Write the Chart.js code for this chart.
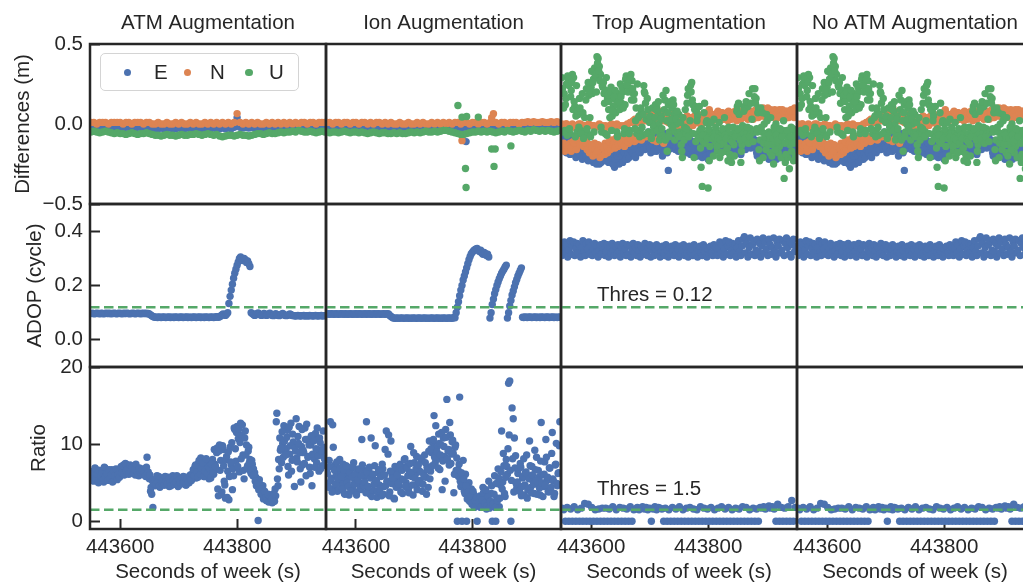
<!DOCTYPE html>
<html><head><meta charset="utf-8">
<script src="https://cdn.jsdelivr.net/npm/chart.js@4.4.1/dist/chart.umd.min.js"></script>
<style>
html,body{margin:0;padding:0;background:#fff;overflow:hidden;width:1023px;height:584px;}
canvas{position:absolute;}
#legend{position:absolute;left:100px;top:53px;width:197px;height:36px;border:1px solid #d4d4d4;border-radius:5px;background:rgba(255,255,255,0.85);font-family:'Liberation Sans',Arial,sans-serif;font-size:20.5px;color:#262626;}
#legend .d{position:absolute;width:7.4px;height:7.4px;border-radius:50%;top:14.5px;}
#legend .t{position:absolute;top:6px;line-height:24px;}
</style></head><body>
<script>
// ---------- labels / ticks ----------
const COL_TITLES = ['ATM Augmentation', 'Ion Augmentation', 'Trop Augmentation', 'No ATM Augmentation'];
const ROW_LABELS = ['Differences (m)', 'ADOP (cycle)', 'Ratio'];
const X_LABEL = 'Seconds of week (s)';
const SERIES_NAMES = ['E', 'N', 'U'];
const X_MIN = 443548.5, X_MAX = 443952;
const X_TICKS = [443600, 443800];
const DIFF_TICKS = [-0.5, 0, 0.5], DIFF_TICK_LABELS = ['\u22120.5', '0.0', '0.5'];
const ADOP_TICKS = [0, 0.2, 0.4], ADOP_TICK_LABELS = ['0.0', '0.2', '0.4'];
const RATIO_TICKS = [0, 10, 20], RATIO_TICK_LABELS = ['0', '10', '20'];
const ADOP_THRES = 0.12, RATIO_THRES = 1.5;
const ADOP_THRES_TEXT = 'Thres = 0.12', RATIO_THRES_TEXT = 'Thres = 1.5';

// ---------- epochs (seconds of week) ----------
const T5 = [443550,443555,443560,443565,443570,443575,443580,443585,443590,443595,
443600,443605,443610,443615,443620,443625,443630,443635,443640,443645,
443650,443655,443660,443665,443670,443675,443680,443685,443690,443695,
443700,443705,443710,443715,443720,443725,443730,443735,443740,443745,
443750,443755,443760,443765,443770,443775,443780,443785,443790,443795,
443800,443805,443810,443815,443820,443825,443830,443835,443840,443845,
443850,443855,443860,443865,443870,443875,443880,443885,443890,443895,
443900,443905,443910,443915,443920,443925,443930,443935,443940,443945,
443950];
const T3 = [443550,443553,443556,443559,443562,443565,443568,443571,443574,443577,
443580,443583,443586,443589,443592,443595,443598,443601,443604,443607,
443610,443613,443616,443619,443622,443625,443628,443631,443634,443637,
443640,443643,443646,443649,443652,443655,443658,443661,443664,443667,
443670,443673,443676,443679,443682,443685,443688,443691,443694,443697,
443700,443703,443706,443709,443712,443715,443718,443721,443724,443727,
443730,443733,443736,443739,443742,443745,443748,443751,443754,443757,
443760,443763,443766,443769,443772,443775,443778,443781,443784,443787,
443790,443793,443796,443799,443802,443805,443808,443811,443814,443817,
443820,443823,443826,443829,443832,443835,443838,443841,443844,443847,
443850,443853,443856,443859,443862,443865,443868,443871,443874,443877,
443880,443883,443886,443889,443892,443895,443898,443901,443904,443907,
443910,443913,443916,443919,443922,443925,443928,443931,443934,443937,
443940,443943,443946,443949];
const T2 = [443550,443552,443554,443556,443558,443560,443562,443564,443566,443568,
443570,443572,443574,443576,443578,443580,443582,443584,443586,443588,
443590,443592,443594,443596,443598,443600,443602,443604,443606,443608,
443610,443612,443614,443616,443618,443620,443622,443624,443626,443628,
443630,443632,443634,443636,443638,443640,443642,443644,443646,443648,
443650,443652,443654,443656,443658,443660,443662,443664,443666,443668,
443670,443672,443674,443676,443678,443680,443682,443684,443686,443688,
443690,443692,443694,443696,443698,443700,443702,443704,443706,443708,
443710,443712,443714,443716,443718,443720,443722,443724,443726,443728,
443730,443732,443734,443736,443738,443740,443742,443744,443746,443748,
443750,443752,443754,443756,443758,443760,443762,443764,443766,443768,
443770,443772,443774,443776,443778,443780,443782,443784,443786,443788,
443790,443792,443794,443796,443798,443800,443802,443804,443806,443808,
443810,443812,443814,443816,443818,443820,443822,443824,443826,443828,
443830,443832,443834,443836,443838,443840,443842,443844,443846,443848,
443850,443852,443854,443856,443858,443860,443862,443864,443866,443868,
443870,443872,443874,443876,443878,443880,443882,443884,443886,443888,
443890,443892,443894,443896,443898,443900,443902,443904,443906,443908,
443910,443912,443914,443916,443918,443920,443922,443924,443926,443928,
443930,443932,443934,443936,443938,443940,443942,443944,443946,443948,
443950];
const T2B = [443551,443553,443555,443557,443559,443561,443563,443565,443567,443569,
443571,443573,443575,443577,443579,443581,443583,443585,443587,443589,
443591,443593,443595,443597,443599,443601,443603,443605,443607,443609,
443611,443613,443615,443617,443619,443621,443623,443625,443627,443629,
443631,443633,443635,443637,443639,443641,443643,443645,443647,443649,
443651,443653,443655,443657,443659,443661,443663,443665,443667,443669,
443671,443673,443675,443677,443679,443681,443683,443685,443687,443689,
443691,443693,443695,443697,443699,443701,443703,443705,443707,443709,
443711,443713,443715,443717,443719,443721,443723,443725,443727,443729,
443731,443733,443735,443737,443739,443741,443743,443745,443747,443749,
443751,443753,443755,443757,443759,443761,443763,443765,443767,443769,
443771,443773,443775,443777,443779,443781,443783,443785,443787,443789,
443791,443793,443795,443797,443799,443801,443803,443805,443807,443809,
443811,443813,443815,443817,443819,443821,443823,443825,443827,443829,
443831,443833,443835,443837,443839,443841,443843,443845,443847,443849,
443851,443853,443855,443857,443859,443861,443863,443865,443867,443869,
443871,443873,443875,443877,443879,443881,443883,443885,443887,443889,
443891,443893,443895,443897,443899,443901,443903,443905,443907,443909,
443911,443913,443915,443917,443919,443921,443923,443925,443927,443929,
443931,443933,443935,443937,443939,443941,443943,443945,443947,443949];

// ---------- row 1: position differences (m) ----------
const ATM_E = [-.02,-.02,-.025,-.02,-.02,-.015,-.02,-.02,-.025,-.02,-.02,-.025,-.02,-.02,-.02,-.025,-.02,-.02,-.02,-.025,
-.02,-.025,-.03,-.03,-.025,-.03,-.03,-.025,-.03,-.03,-.025,-.03,-.03,-.025,-.03,-.025,-.03,-.025,-.03,-.025,
-.025,-.03,-.025,-.03,-.03,-.025,-.03,-.025,-.03,-.02,.04,-.02,-.025,-.02,-.025,-.02,-.025,-.02,-.02,-.025,
-.02,-.025,-.02,-.02,-.025,-.02,-.02,-.025,-.02,-.02,-.02,-.025,-.02,-.02,-.025,-.02,-.02,-.025,-.02,-.02,-.02];
const ATM_N = [.01,.01,0,.01,.01,.01,0,.01,.01,.01,.01,0,.01,.01,0,.01,.01,.01,0,.01,
.01,0,0,.01,0,0,.01,0,0,.01,0,.01,0,0,.01,0,.01,0,0,.01,
0,.01,0,.01,0,.01,0,.01,0,.01,.065,.01,0,.01,0,.01,0,.01,0,0,
.01,0,.01,0,.01,0,.01,0,.01,0,.01,0,.01,.01,0,.01,.01,0,.01,.01,.01];
const ATM_U = [-.05,-.045,-.05,-.055,-.05,-.045,-.05,-.055,
-.06,-.055,-.06,-.06,-.065,-.06,-.055,-.06,-.065,-.06,-.06,-.055,-.06,
-.065,-.07,-.07,-.075,-.07,-.065,-.07,-.07,-.075,-.07,-.065,-.07,-.07,-.065,
-.065,-.06,-.065,-.07,-.065,-.06,-.065,-.07,-.065,
-.075,-.08,-.075,
-.07,-.07,-.075,-.07,-.065,-.07,-.07,-.075,-.07,
-.065,-.06,-.06,-.065,-.06,-.055,-.06,-.06,-.055,
-.05,-.055,-.05,-.05,-.045,-.05,-.04,-.045,
-.05,-.05,-.045,-.05,-.055,-.05,-.045,-.05];

const ION_E = [-.02,-.02,-.025,-.02,-.02,-.025,-.02,-.02,-.025,-.02,-.025,-.02,-.02,-.025,-.02,-.025,-.02,-.025,-.02,-.02,
-.025,-.03,-.025,-.03,-.03,-.025,-.03,-.03,-.025,-.03,-.03,-.025,-.03,-.03,-.025,-.03,-.025,-.03,-.025,-.025,
-.025,-.02,-.025,-.02,-.025,-.02,-.025,-.02,-.02,-.025,-.02,-.02,-.025,-.02,-.02,-.025,-.02,-.02,-.025,-.02,
-.02,-.025,-.02,-.02,-.025,-.02,-.02,-.025,-.02,-.02,-.02,-.025,-.02,-.02,-.02,-.025,-.02,-.02,-.025,-.02,-.02];
const ION_N = [.01,.01,0,.01,.01,0,.01,.01,0,.01,.01,0,.01,.01,0,.01,0,.01,.01,0,
.01,0,.01,0,0,.01,0,0,.01,0,0,.01,0,.01,0,0,.01,0,.01,0,
.01,0,.01,0,.01,.01,0,.01,.01,0,.01,.01,0,.01,.01,0,.01,.01,.01,0,
.01,.01,0,.01,.01,.01,0,.01,.01,.015,.01,.015,.01,.01,.015,.01,.01,.015,.01,.015,.01];
const ION_U = [-.05,-.055,-.05,-.05,-.055,-.05,-.045,-.05,-.055,-.05,-.05,
-.055,-.05,-.055,-.06,-.055,-.05,-.055,-.06,-.055,-.055,-.06,-.06,-.055,-.06,-.055,-.06,-.06,-.055,-.05,-.055,
-.05,-.055,-.05,-.045,-.05,-.05,-.045,-.05,-.045,-.04,
-.04,-.045,-.05,-.055,-.06,-.065,
-.065,-.06,-.055,-.05,-.05,-.045,
-.05,-.045,-.05,-.045,-.05,-.055,-.05,-.045,-.05,-.04,-.045,-.05,
-.045,-.04,-.045,-.05,-.04,-.045,-.035,-.04,-.045,-.04,-.045,-.04,-.045,-.05,-.045,-.04];
const ION_E_OUT_T = [443789];
const ION_E_OUT = [-0.11];
const ION_N_OUT_T = [443782, 443833, 443836];
const ION_N_OUT = [-0.104, 0.039, 0.064];
const ION_U_OUT_T = [443775, 443782, 443790, 443810, 443788, 443789, 443833, 443839, 443837, 443866];
const ION_U_OUT = [0.116, 0.043, 0.047, 0.043, -0.278, -0.397, -0.156, -0.156, -0.265, -0.137];

// Trop augmentation, even epochs (T2)
const TROP_E = [-.08,-.16,-.12,-.07,-.18,-.14,-.1,-.19,-.09,-.15,-.17,-.12,-.21,-.08,-.14,-.13,-.05,-.11,-.16,-.04,
-.15,-.2,-.13,-.18,-.22,-.19,-.14,-.24,-.17,-.21,-.23,-.18,-.25,-.15,-.2,-.16,-.22,-.13,-.19,-.21,
-.24,-.17,-.2,-.14,-.22,-.27,-.19,-.23,-.16,-.25,-.21,-.17,-.24,-.19,-.15,-.18,-.22,-.14,-.2,-.17,
-.13,-.19,-.16,-.21,-.12,-.15,-.11,-.18,-.09,-.14,-.1,-.16,-.07,-.13,-.05,-.12,-.18,-.08,-.15,-.11,
-.09,-.17,-.06,-.13,-.1,-.14,-.2,-.11,-.16,-.08,-.18,-.29,-.13,-.1,-.15,-.07,-.12,-.16,-.09,-.14,
-.11,-.15,-.08,-.13,-.18,-.14,-.1,-.17,-.12,-.16,-.19,-.13,-.15,-.11,-.17,-.16,-.2,-.12,-.18,-.14,
-.21,-.15,-.19,-.13,-.17,-.22,-.16,-.12,-.18,-.1,-.13,-.08,-.15,-.11,-.09,-.12,-.16,-.1,-.14,-.07,
-.11,-.15,-.09,-.13,-.17,-.14,-.1,-.18,-.12,-.16,-.17,-.12,-.15,-.19,-.11,-.13,-.09,-.16,-.1,-.14,
-.08,-.13,-.11,-.07,-.12,-.1,-.15,-.2,-.12,-.17,-.16,-.21,-.13,-.18,-.11,-.19,-.14,-.22,-.16,-.2,
-.15,-.21,-.17,-.13,-.2,-.18,-.14,-.21,-.16,-.12,-.17,-.22,-.14,-.19,-.11,-.15,-.19,-.12,-.17,-.09,
-.13];
const TROP_N = [0,-.15,-.01,-.13,0,-.16,-.01,-.12,-.17,0,-.14,-.02,-.11,-.13,-.01,-.1,0,-.12,-.09,-.01,
-.01,-.11,-.14,0,-.13,-.15,-.01,-.17,-.12,-.02,-.19,-.13,0,-.2,-.15,-.01,-.16,-.12,-.02,-.18,
-.13,-.01,-.1,-.15,-.01,-.12,-.09,0,-.14,-.11,-.01,-.1,-.13,-.02,-.11,-.09,0,-.12,-.1,.01,
-.08,.02,-.11,.01,-.09,.01,-.06,.02,-.1,.03,.05,.03,-.08,.06,.04,.02,.06,.03,-.1,.05,
.07,-.11,.04,-.09,.06,.03,.07,-.12,.05,.02,.04,.01,.06,.03,.05,.02,.05,-.02,.04,.03,
.01,.04,-.01,.03,.02,.03,0,.05,-.02,.03,.02,.04,-.01,.03,.01,.04,.01,.05,.02,-.01,
.03,.05,.01,.04,.02,.05,.09,.03,.06,.02,.04,.06,.03,.07,.05,.02,.05,.07,.03,.06,
.04,.07,.02,.06,.05,.03,.06,.04,.08,.05,.07,.04,.06,.03,.07,.05,.08,.04,.06,.03,
.06,.04,.07,.05,.08,.05,.09,.06,.04,.07,.08,.06,.1,.05,.07,.06,.1,.04,.08,.06,
.07,.05,.09,.03,.08,.06,.09,.04,.07,.05,.03,.07,.05,.08,.04,.06,.09,.05,.07,.1,
.05];
const TROP_U = [.29,-.05,.19,.12,.25,.3,.24,-.06,.21,.31,.29,.11,.05,-.05,.06,.16,-.04,-.06,.07,-.05,
-.05,.22,-.06,.18,.04,.23,.19,.28,.35,.29,.42,.41,.36,.31,-.05,.23,.19,-.06,.29,.16,
.09,.04,.23,.05,.11,.16,.07,-.05,.19,.16,.25,.13,.2,-.06,.12,.3,.27,.23,-.04,.31,
.27,.19,.19,.02,-.06,-.05,.05,-.04,.07,-.07,.24,.19,.03,.16,-.05,.01,-.06,-.06,0,-.04,
.12,.11,.08,0,-.07,.05,-.07,-.09,.15,.21,-.17,.12,-.05,0,.1,.15,.06,-.05,0,-.06,
.06,-.05,-.13,-.21,-.06,-.02,-.06,.13,.22,-.05,.24,.26,.12,-.21,.11,.08,.05,-.06,-.04,-.27,
-.39,-.11,.13,-.06,.02,-.4,-.23,-.07,-.05,-.07,.03,-.11,-.05,-.17,-.06,-.21,-.13,-.06,-.04,.04,
-.17,-.05,-.23,-.06,-.22,-.24,-.06,-.13,-.05,-.04,.11,.13,-.06,-.24,-.13,-.05,.11,.1,-.06,.11,
.19,-.03,-.06,.22,-.05,.22,.16,-.05,.1,-.23,.1,-.05,-.21,0,-.06,.06,-.1,-.05,-.18,-.06,
-.13,-.25,-.05,0,-.06,-.18,-.14,-.05,-.06,-.04,-.34,-.24,-.06,-.21,-.04,-.13,-.02,-.09,-.23,-.05,
-.06];
// Trop augmentation, odd epochs (T2B)
const TROP_E2 = [-.11,-.06,-.17,-.13,-.09,-.18,-.12,-.07,-.16,-.11,-.1,-.19,-.15,-.06,-.13,-.19,-.15,-.22,-.12,-.17,
-.2,-.16,-.23,-.14,-.19,-.17,-.22,-.15,-.2,-.25,-.21,-.16,-.19,-.24,-.14,-.2,-.15,-.23,-.18,-.12,
-.16,-.21,-.18,-.25,-.19,-.22,-.17,-.2,-.13,-.18,-.16,-.2,-.12,-.18,-.22,-.14,-.19,-.21,-.16,-.11,
-.18,-.14,-.2,-.1,-.15,-.12,-.17,-.07,-.13,-.16,-.08,-.12,-.15,-.1,-.14,-.15,-.09,-.13,-.17,-.06,
-.12,-.14,-.08,-.16,-.11,-.1,-.13,-.17,-.06,-.12,-.12,-.16,-.08,-.14,-.11,-.13,-.09,-.15,-.11,-.17,
-.14,-.1,-.16,-.12,-.09,-.11,-.18,-.13,-.15,-.1,-.15,-.12,-.18,-.14,-.2,-.13,-.17,-.1,-.15,-.19,
-.16,-.12,-.14,-.2,-.15,-.14,-.19,-.11,-.15,-.13,-.1,-.14,-.07,-.12,-.16,-.14,-.09,-.13,-.11,-.15,
-.13,-.17,-.11,-.15,-.1,-.12,-.15,-.09,-.17,-.13,-.14,-.1,-.18,-.13,-.16,-.11,-.15,-.12,-.08,-.13,
-.1,-.15,-.09,-.13,-.11,-.14,-.18,-.12,-.16,-.19,-.18,-.13,-.2,-.15,-.17,-.16,-.21,-.18,-.13,-.17,
-.19,-.14,-.18,-.22,-.16,-.15,-.19,-.13,-.17,-.2,-.14,-.19,-.16,-.12,-.18,-.17,-.12,-.15,-.1,-.14];
const TROP_N2 = [-.02,-.12,-.17,0,-.14,-.01,-.13,-.15,-.02,-.11,-.12,-.01,-.16,-.1,0,-.13,-.02,-.1,-.14,-.01,
-.12,-.16,-.01,-.18,-.13,-.14,-.2,-.01,-.16,-.19,-.17,-.01,-.21,-.14,-.02,-.15,-.19,-.01,-.14,-.17,
-.11,-.16,0,-.13,-.12,-.15,-.01,-.1,-.13,-.08,-.12,-.09,-.01,-.14,-.1,-.01,-.11,-.08,.01,-.1,
.01,-.09,.03,-.1,.02,-.08,.04,.02,-.09,.05,.06,.02,.04,-.07,.05,.04,-.09,.07,.03,.05,
.03,.06,-.1,.05,.08,.06,.04,.02,-.09,.05,.02,.05,.04,.01,.06,.04,.01,.03,.05,-.01,
.02,-.01,.04,.02,.03,.01,.04,.02,-.01,.03,.04,.02,0,.05,.03,.02,.05,.03,.01,.04,
.06,.02,.04,.03,.07,.04,.07,.02,.05,.03,.06,.03,.05,.08,.04,.05,.07,.03,.06,.04,
.06,.03,.08,.05,.04,.07,.04,.06,.05,.02,.05,.08,.03,.06,.05,.07,.05,.06,.09,.04,
.05,.08,.06,.03,.07,.07,.04,.08,.06,.05,.06,.09,.05,.07,.04,.08,.05,.07,.09,.06,
.05,.08,.06,.04,.07,.08,.06,.05,.09,.07,.06,.08,.04,.07,.06,.08,.05,.07,.04,.08];
const TROP_U2 = [.22,.1,-.04,.16,-.07,.28,-.03,.17,.26,.09,.14,-.08,.24,.08,-.02,.1,-.06,.19,-.09,.04,
.15,-.03,.26,.21,-.08,.33,.26,-.05,.31,.2,.38,.33,.27,-.02,.24,.26,.13,.21,-.07,.18,
.14,.2,-.04,.08,.17,.21,.12,-.08,.14,.09,.17,.23,.1,-.03,.28,.24,.2,-.06,.28,.15,
.22,.15,-.03,.1,.25,.04,-.08,.1,-.02,.06,.2,.13,-.06,.09,.02,.05,-.09,.1,-.02,.04,
.09,-.04,.14,-.1,.03,-.03,.18,.09,-.1,.02,.07,-.08,.14,.03,-.02,.12,-.1,.03,.08,-.07,
-.08,.01,-.17,.04,-.1,.09,-.03,.18,-.08,.02,.2,.15,-.06,.09,-.11,.02,-.09,.11,-.15,-.03,
-.07,.07,-.12,.01,-.09,-.03,-.14,.01,-.09,-.2,-.08,-.02,-.14,-.09,.01,-.1,-.18,-.03,-.12,-.07,
-.09,-.15,-.02,-.19,-.1,-.11,-.02,-.2,-.08,.08,-.03,.06,-.1,-.17,-.01,.08,-.09,.14,-.02,-.12,
-.08,.13,.03,-.11,.17,.13,-.03,.07,-.16,-.1,-.02,.07,-.12,-.08,-.16,.02,-.13,-.07,.04,-.2,
-.09,-.02,-.16,-.07,-.11,-.1,-.03,-.21,-.08,.02,-.12,-.19,-.04,-.09,-.28,-.08,-.17,-.03,-.12,-.2];
// "No ATM Augmentation" differences read identical to the Trop panel
const NOATM_E = TROP_E, NOATM_N = TROP_N, NOATM_U = TROP_U;
const NOATM_E2 = TROP_E2, NOATM_N2 = TROP_N2, NOATM_U2 = TROP_U2;

// ---------- row 2: ADOP (cycle) ----------
const ADOP_ATM = [.097,.098,.097,.096,.097,.098,.097,.097,.096,.098,.097,.096,.097,.098,.097,.097,.098,.096,.097,.097,
.098,.097,.096,.097,.098,.097,.097,.096,.098,.097,.097,.098,.097,.096,.097,.097,.098,.097,.096,.097,
.098,.097,.097,.096,.098,.097,.097,.098,.096,.097,
.095,.092,.089,.086,.084,.083,
.083,.082,.084,.083,.082,.083,.084,.083,.082,.083,.083,.084,.082,.083,.083,.082,.084,.083,.083,.082,
.083,.084,.083,.082,.083,.083,.084,.082,.083,.083,.082,.083,.084,.083,.082,.083,.083,.084,.082,.083,
.083,.082,.084,.083,.083,.082,.083,.084,.083,.082,.083,.085,.084,.083,
.085,.088,.092,.095,.093,.09,.094,.1,
.134,.16,.183,.205,.227,.245,.26,.275,.287,.3,.305,.298,.292,.3,.295,.285,.29,.28,.27,
.1,.097,.093,.09,.092,.096,.099,.095,.091,.09,.093,.097,.094,.09,
.091,.095,.098,.094,.09,.089,.092,.096,.093,.09,.089,.091,.094,.097,.093,.09,.089,.09,.092,.095,.093,.09,.089,
.089,.088,.089,.09,.089,.088,.089,.089,.09,.088,.089,.089,.088,.09,.089,.089,.088,.089,.09,.089,.088,.089,.089,.09,.088,.089,.089];
const ADOP_ION = [.095,.096,.094,.095,.096,.095,.094,.095,.096,.095,.094,.095,.096,.095,.095,.094,.096,.095,.094,.095,
.096,.095,.094,.095,.095,.096,.094,.095,.096,.095,.094,.095,.095,.096,.094,.095,.096,.095,.094,.095,
.095,.096,.094,.095,.096,.095,.094,.095,.095,.096,.094,.095,.096,.095,
.09,.086,.083,.08,
.08,.079,.081,.08,.079,.08,.081,.08,.079,.08,.08,.081,.079,.08,.08,.079,.081,.08,.08,.079,
.08,.081,.08,.079,.08,.08,.081,.079,.08,.08,.079,.08,.081,.08,.079,.08,.08,.081,.079,.08,
.08,.079,.081,.08,.08,.079,.08,.081,.08,.079,.08,.082,.081,
.1,.12,.14,.162,.183,.2,.22,.235,.25,.265,.28,.295,.307,.317,.323,.328,.332,.335,.336,
.33,.325,.33,.32,.315,.322,.318,.31,.315,.305,
.08,.1,.13,.15,.17,.185,.2,.213,.225,.235,.245,.253,.26,.268,.275,
.08,.1,.125,.145,.165,.18,.195,.21,.222,.235,.245,.255,.265,
.083,.082,.084,.083,.082,.083,.084,.083,.082,.083,.083,.084,.082,.083,.083,.082,.084,.083,.083,.082,
.083,.084,.083,.082,.083,.083,.084,.082,.083,.083,.082,.083,.084];
const ADOP_TROP = [.31,.34,.36,.32,.35,.305,.33,.365,.315,.345,.36,.31,.335,.355,.32,.35,.305,.34,.365,.325,.31,.355,.335,.36,.315,.345,
.31,.335,.355,.32,.345,.305,.33,.35,.315,.34,.355,.31,.325,.35,.305,.34,.32,.355,.33,.31,.345,.315,.35,.325,.305,.34,.355,.32,.335,.31,
.35,.315,.345,.305,.33,.355,.32,.34,.31,.35,.325,.305,.345,.335,.315,.355,.32,.31,.34,.35,.305,.33,.345,
.31,.335,.35,.315,.34,.305,.325,.345,.32,.31,.35,.33,.305,.34,.315,.345,.325,.31,.35,.32,.335,.305,.345,.315,.33,.35,.31,.34,.32,.305,
.345,.325,.335,.31,.35,.315,.34,.305,.33,.345,.32,.31,.35,.325,.34,.305,.335,.315,.345,.32,.31,.35,.33,.34,
.31,.34,.36,.32,.35,.305,.335,.365,.315,.345,.36,.31,.33,.355,.32,.35,.305,.34,.365,.325,
.31,.345,.37,.38,.32,.355,.305,.34,.375,.315,.35,.365,.31,.33,.37,.325,.355,.305,.345,.375,.32,.36,.335,.31,.37,.35,.315,.34,.375,.325,
.305,.36,.345,.37,.32,.33,.365,.31,.355,.375,.34,.315,.36,.305,.35,.37,.325,.345];
const ADOP_NOATM = ADOP_TROP;

// ---------- row 3: ratio ----------
const RATIO_ATM = [6.1,5.6,6.5,5.3,6.8,5.9,6.2,5.4,6.6,5.8,6.3,5.1,6.9,5.7,6.0,5.5,6.4,5.9,6.7,5.2,6.1,6.5,5.6,6.2,5.8,
6.4,7.1,6.6,7.3,6.8,7.4,6.2,7.0,6.5,7.2,6.9,6.3,7.1,6.0,6.7,6.4,5.9,6.6,6.2,6.8,
6.1,6.6,5.8,8.3,6.4,5.5,3.9,3.5,1.8,
5.1,4.6,5.5,4.9,5.8,4.4,5.3,5.0,5.6,4.7,5.2,4.9,5.7,4.5,5.4,5.0,5.9,4.8,5.3,5.1,5.6,4.6,5.2,5.5,4.9,5.8,5.1,4.7,5.4,5.7,5.0,6.0,5.3,5.8,
6.2,7.1,5.6,6.8,7.5,6.0,8.2,6.5,7.0,5.8,6.9,7.7,6.3,5.5,7.2,6.6,8.0,6.1,7.4,6.7,
9.5,3.3,9.9,7.9,3.8,9.3,5.2,3.0,8.4,6.5,2.8,9.6,7.3,4.1,
5.9,11.9,7.8,12.3,10.7,6.4,12.7,11.2,8.6,5.5,
11.7,9.9,7.2,9.6,8.0,6.2,7.4,6.8,
6.3,5.7,4.9,0.1,5.4,4.4,3.8,4.6,3.2,3.6,2.7,3.1,2.5,3.4,2.8,2.4,3.0,2.6,3.3,
14.0,4.6,6.8,9.2,7.6,10.1,12.4,9.0,
9.4,11.8,6.0,8.7,12.7,7.9,10.3,4.5,9.1,8.2,11.0,12.3,6.8,9.7,7.3,8.9,12.1,5.9,10.6,8.4,7.0,9.9,4.6,10.9,8.1,11.4,7.6,9.3,6.5,10.2,8.8,7.2,9.6,8.0];
const RATIO_ATM2 = [5.7,6.4,5.2,6.9,5.5,6.1,5.0,6.6,5.9,6.3,5.4,7.0,5.8,6.2,5.3,6.7,5.6,6.0,5.1,6.5,5.9,6.8,5.4,6.1,5.7,
6.9,6.3,7.2,6.0,7.5,6.6,6.8,6.1,7.3,6.4,7.0,6.2,6.7,7.4,6.5,6.0,6.9,6.3,6.6,6.1,
6.4,5.9,7.0,6.2,5.7,6.0,4.4,5.3,4.9,
5.4,4.8,5.9,5.1,4.6,5.6,5.0,5.3,4.7,5.8,5.2,4.9,5.5,5.0,4.6,5.7,5.3,4.8,5.1,5.9,4.5,5.4,5.0,5.6,4.9,5.2,5.7,4.7,5.5,5.1,5.8,5.4,6.1,
6.7,5.9,7.3,6.4,5.7,7.9,6.1,6.9,7.6,5.8,6.5,8.1,6.2,7.0,6.8,5.6,7.4,6.3,9.3,7.1,
8.9,4.2,9.1,6.6,3.5,9.8,7.2,4.7,8.0,3.1,9.0,5.8,7.7,10.2,
6.8,12.1,9.4,11.5,7.1,12.0,10.2,8.1,12.5,6.6,
10.8,8.6,6.9,9.1,7.6,6.5,7.9,5.9,
6.0,5.2,4.6,5.0,4.1,4.8,3.5,4.2,2.9,3.9,3.0,2.7,3.5,2.6,3.1,2.9,2.5,3.6,4.2,
12.9,5.5,8.0,10.8,9.5,11.6,8.3,10.4,
8.6,10.9,7.1,12.2,9.8,6.5,11.3,8.0,9.5,13.3,7.7,10.1,8.9,5.1,11.9,9.2,7.5,10.6,12.6,8.3,9.9,6.2,11.1,8.7,10.4,7.0,9.4,12.1,8.5,10.8,6.8,9.1,11.7,8.2];
const RATIO_ION = [6.8,4.9,7.9,12.9,5.6,12.5,4.2,7.3,5.9,3.9,6.5,8.0,5.1,
4.6,7.4,3.6,6.1,5.3,7.0,3.4,5.8,6.9,4.4,7.6,5.0,3.8,6.3,5.2,4.9,4.1,10.6,6.7,4.8,
5.9,12.9,4.3,6.6,3.5,10.8,5.7,4.0,7.2,5.1,3.1,6.3,4.7,5.9,3.3,6.8,4.5,9.3,11.7,5.2,11.2,3.8,10.4,6.0,4.9,2.9,6.5,5.4,
6.8,4.6,7.4,5.5,3.6,6.9,8.1,5.0,7.2,4.2,6.4,9.7,5.8,3.4,7.6,6.1,8.4,4.9,6.6,5.3,7.9,3.9,6.2,8.6,5.7,7.0,4.4,10.4,6.5,
8.9,10.2,13.7,7.6,9.5,8.1,11.3,6.7,9.9,4.1,10.8,8.4,11.9,15.8,9.1,7.3,11.2,8.7,10.5,3.7,9.6,6.6,
0,5.8,16.1,4.5,0,7.9,3.9,6.1,0,3.3,5.0,2.7,4.2,2.3,3.5,1.9,2.9,0,2.5,
3.1,1.8,2.6,4.4,2.2,3.4,1.6,2.9,5.2,2.1,3.6,0,2.4,5.9,0,3.0,6.8,1.9,4.7,
11.7,5.1,7.2,3.2,8.0,6.1,17.9,18.2,0,14.7,13.3,10.8,8.5,4.3,
6.2,4.0,7.5,3.3,5.6,8.1,4.7,6.4,3.0,5.9,10.4,4.4,7.1,5.2,3.6,6.7,8.3,4.8,5.7,3.4,12.8,6.0,4.5,7.7,10.6,5.3,3.9,6.9,4.2,8.8,5.5,3.2,7.3,10.1,4.6,6.3,12.9];
const RATIO_ION2 = [6.2,4.4,7.1,5.3,3.8,9.6,6.6,4.8,7.7,5.5,4.1,6.9,
5.8,4.2,6.6,3.5,7.2,5.0,4.5,6.3,3.9,5.7,7.0,4.8,6.1,3.4,5.4,6.8,4.3,5.9,7.3,4.6,
5.1,3.7,6.4,4.5,7.0,5.6,3.2,6.1,4.8,9.8,5.3,3.9,6.7,4.2,5.8,7.4,3.5,6.0,4.6,5.2,8.7,3.3,6.5,4.9,5.6,3.0,7.1,4.4,
6.0,4.9,7.1,3.8,6.6,5.4,8.0,4.5,6.9,5.9,3.7,7.5,6.3,4.7,8.9,5.6,6.8,4.1,7.3,5.1,6.4,8.2,4.8,5.8,7.6,3.5,6.7,9.1,5.5,
9.4,7.2,10.6,8.3,12.4,9.0,6.9,10.1,8.6,11.5,7.8,9.7,5.2,10.9,8.0,9.3,12.8,7.5,10.3,8.8,6.1,9.9,
8.2,6.7,7.4,5.2,6.3,4.8,5.5,3.6,4.6,2.9,3.8,2.6,3.3,2.2,3.9,1.8,2.7,3.1,2.0,
2.4,3.3,1.9,2.8,3.7,2.3,4.1,2.0,3.2,1.7,2.6,4.6,2.2,3.5,1.8,4.9,2.7,5.6,3.0,
6.4,4.2,8.8,3.6,5.7,7.1,9.4,11.2,6.6,5.3,8.1,3.8,6.9,4.9,
5.1,6.8,3.9,7.0,4.5,5.8,3.4,6.3,8.6,4.1,5.5,7.2,3.7,6.0,4.8,9.2,5.3,3.5,6.6,4.3,7.8,5.0,3.2,6.1,4.7,8.3,5.7,3.8,6.9,4.4,11.5,5.2,3.6,7.4,4.9,6.2,9.8];
const RATIO_TROP = [1.7,1.5,
0,1.8,0,1.6,0,1.9,0,1.5,0,1.7,0,2.3,0,2.2,0,1.8,0,1.5,0,1.6,0,1.7,0,1.7,0,1.6,0,1.9,0,1.5,0,1.8,0,1.7,0,1.6,0,1.9,0,1.5,
1.6,1.8,1.5,1.7,1.9,1.6,1.8,1.5,1.7,
0,
1.6,1.9,1.5,1.8,1.7,1.6,
0,1.7,0,1.5,0,1.8,0,1.6,0,1.9,0,1.5,0,1.7,0,1.8,0,1.6,0,1.5,0,1.9,0,1.7,0,1.6,0,1.8,0,1.5,0,1.7,0,1.9,0,1.6,0,1.8,0,1.5,0,1.7,0,1.6,0,1.9,0,1.8,0,1.5,0,1.7,0,1.6,0,1.8,
1.7,1.9,1.6,1.8,2.0,1.7,1.9,1.6,
0,2.2,0,1.8,0,1.7,0,1.9,0,2.7,0,1.8];
const RATIO_NOATM = RATIO_TROP;

// ---------- style ----------
const FONT = "'Liberation Sans', Arial, sans-serif";
const FS = 20.5;
const INK = '#262626';
const C_E = '#4C72B0', C_N = '#DD8452', C_U = '#55A868';
const COL_L = [90, 326, 561, 797], COL_R = [326, 561, 797, 1033];
const ROW_T = [44, 204, 367], ROW_B = [204, 367, 529];
const ROW_LIM = [[-0.5, 0.5], [-0.1, 0.5], [-1, 20]];
const ROW_TICKS = [DIFF_TICKS, ADOP_TICKS, RATIO_TICKS];
const ROW_TICK_LABELS = [DIFF_TICK_LABELS, ADOP_TICK_LABELS, RATIO_TICK_LABELS];
const ROW_TITLE_PAD = [11, 22.7, 27];

Chart.defaults.font.family = FONT;
Chart.defaults.color = INK;

function pts(xs, ys) { return ys.map((y, i) => ({x: xs[i], y: y})); }
function sc(data, color, order) {
  return {type: 'scatter', data: data, backgroundColor: color, borderColor: color, pointBackgroundColor: color,
    pointRadius: 3.7, pointHoverRadius: 3.7, pointBorderWidth: 0, borderWidth: 0, order: order, clip: 0};
}
function thres(v) {
  return {type: 'line', data: [{x: X_MIN, y: v}, {x: X_MAX, y: v}], borderColor: C_U, backgroundColor: C_U,
    borderWidth: 2.6, borderDash: [9.5, 4.5], pointRadius: 0, order: 0, clip: 0, fill: false, tension: 0};
}

const framePlugin = {
  id: 'frame',
  afterDraw(chart) {
    const a = chart.chartArea, ctx = chart.ctx;
    ctx.save();
    ctx.strokeStyle = INK; ctx.lineWidth = 2.5;
    ctx.strokeRect(a.left, a.top, a.right - a.left, a.bottom - a.top);
    ctx.restore();
  }
};
const annotPlugin = {
  id: 'annot',
  afterDatasetsDraw(chart, args, opts) {
    if (!opts || !opts.text) return;
    const ctx = chart.ctx;
    ctx.save();
    ctx.font = FS + 'px ' + FONT; ctx.fillStyle = INK;
    ctx.textAlign = 'left'; ctx.textBaseline = 'middle';
    ctx.fillText(opts.text, chart.scales.x.getPixelForValue(opts.x), chart.scales.y.getPixelForValue(opts.y));
    ctx.restore();
  }
};

function makePanel(r, c, datasets, annot) {
  const L = COL_L[c], R = COL_R[c], T = ROW_T[r], B = ROW_B[r];
  const hasY = c === 0, hasX = r === 2, hasTitle = r === 0;
  const padL = hasY ? L : (hasX ? 40 : 4);
  const padR = 4;
  const padT = hasTitle ? T : (hasY ? 16 : 4);
  const padB = hasX ? 61 : (hasY ? 16 : 4);
  const cv = document.createElement('canvas');
  cv.width = (R - L) + padL + padR;
  cv.height = (B - T) + padT + padB;
  cv.style.left = (L - padL) + 'px';
  cv.style.top = (T - padT) + 'px';
  cv.style.width = cv.width + 'px';
  cv.style.height = cv.height + 'px';
  document.body.appendChild(cv);
  const tickGrid = {drawOnChartArea: false, drawTicks: true, tickLength: -10, tickWidth: 2, tickColor: INK};
  new Chart(cv, {
    type: 'scatter',
    data: {datasets: datasets},
    options: {
      responsive: false, animation: false, devicePixelRatio: 1, events: [],
      layout: {padding: {left: hasY ? 0 : padL, right: padR, top: hasTitle ? 0 : padT, bottom: hasX ? 0 : padB}},
      plugins: {
        legend: {display: false}, tooltip: {enabled: false},
        title: {display: hasTitle, text: COL_TITLES[c], color: INK, fullSize: false,
          font: {family: FONT, size: FS, weight: 'normal'}, padding: {top: 11, bottom: 8.4}},
        annot: annot || false
      },
      scales: {
        x: {
          type: 'linear', position: 'bottom', min: X_MIN, max: X_MAX, display: hasX, z: 1,
          afterBuildTicks: s => { s.ticks = X_TICKS.map(v => ({value: v})); },
          afterFit: s => { if (hasX) { s.height = 61; s.paddingLeft = 0; s.paddingRight = 0; } },
          grid: tickGrid, border: {display: false},
          ticks: {padding: 16, color: INK, font: {family: FONT, size: FS}, maxRotation: 0, minRotation: 0, autoSkip: false,
            callback: (v, i) => String(X_TICKS[i])},
          title: {display: true, text: X_LABEL, color: INK, font: {family: FONT, size: FS}, padding: {top: 0, bottom: 5.2}}
        },
        y: {
          type: 'linear', position: 'left', min: ROW_LIM[r][0], max: ROW_LIM[r][1], display: hasY, z: 1,
          afterBuildTicks: s => { s.ticks = ROW_TICKS[r].map(v => ({value: v})); },
          afterFit: s => { if (hasY) { s.width = 90; s.paddingTop = 0; s.paddingBottom = 0; } },
          grid: tickGrid, border: {display: false},
          ticks: {padding: 17, color: INK, font: {family: FONT, size: FS}, autoSkip: false,
            callback: (v, i) => ROW_TICK_LABELS[r][i]},
          title: {display: true, text: ROW_LABELS[r], color: INK, font: {family: FONT, size: FS}, padding: {top: ROW_TITLE_PAD[r], bottom: 0}}
        }
      }
    },
    plugins: [framePlugin, annotPlugin]
  });
}

// row 1
makePanel(0, 0, [sc(pts(T5, ATM_E), C_E, 3), sc(pts(T5, ATM_N), C_N, 2), sc(pts(T5, ATM_U), C_U, 1)]);
makePanel(0, 1, [
  sc(pts(T5, ION_E).concat(pts(ION_E_OUT_T, ION_E_OUT)), C_E, 3),
  sc(pts(T5, ION_N).concat(pts(ION_N_OUT_T, ION_N_OUT)), C_N, 2),
  sc(pts(T5, ION_U).concat(pts(ION_U_OUT_T, ION_U_OUT)), C_U, 1)]);
makePanel(0, 2, [
  sc(pts(T2, TROP_E).concat(pts(T2B, TROP_E2)), C_E, 3),
  sc(pts(T2, TROP_N).concat(pts(T2B, TROP_N2)), C_N, 2),
  sc(pts(T2, TROP_U).concat(pts(T2B, TROP_U2)), C_U, 1)]);
makePanel(0, 3, [
  sc(pts(T2, NOATM_E).concat(pts(T2B, NOATM_E2)), C_E, 3),
  sc(pts(T2, NOATM_N).concat(pts(T2B, NOATM_N2)), C_N, 2),
  sc(pts(T2, NOATM_U).concat(pts(T2B, NOATM_U2)), C_U, 1)]);
// row 2
makePanel(1, 0, [sc(pts(T2, ADOP_ATM), C_E, 1), thres(ADOP_THRES)]);
makePanel(1, 1, [sc(pts(T2, ADOP_ION), C_E, 1), thres(ADOP_THRES)]);
makePanel(1, 2, [sc(pts(T2, ADOP_TROP), C_E, 1), thres(ADOP_THRES)], {text: ADOP_THRES_TEXT, x: 443610, y: 0.165});
makePanel(1, 3, [sc(pts(T2, ADOP_NOATM), C_E, 1), thres(ADOP_THRES)]);
// row 3
makePanel(2, 0, [sc(pts(T2, RATIO_ATM).concat(pts(T2B, RATIO_ATM2)), C_E, 1), thres(RATIO_THRES)]);
makePanel(2, 1, [sc(pts(T2, RATIO_ION).concat(pts(T2B, RATIO_ION2)), C_E, 1), thres(RATIO_THRES)]);
makePanel(2, 2, [sc(pts(T3, RATIO_TROP), C_E, 1), thres(RATIO_THRES)], {text: RATIO_THRES_TEXT, x: 443610, y: 4.1});
makePanel(2, 3, [sc(pts(T3, RATIO_NOATM), C_E, 1), thres(RATIO_THRES)]);

// legend (inside the first panel)
const lg = document.createElement('div');
lg.id = 'legend';
const LEG_COLORS = [C_E, C_N, C_U];
const LEG_DOT_X = [26.3, 86.3, 148];
const LEG_TXT_X = [53, 109, 168];
SERIES_NAMES.forEach((name, i) => {
  const d = document.createElement('div'); d.className = 'd';
  d.style.left = (LEG_DOT_X[i] - 3.7) + 'px'; d.style.background = LEG_COLORS[i];
  const t = document.createElement('div'); t.className = 't';
  t.style.left = LEG_TXT_X[i] + 'px'; t.textContent = name;
  lg.appendChild(d); lg.appendChild(t);
});
document.body.appendChild(lg);
</script>
</body></html>
